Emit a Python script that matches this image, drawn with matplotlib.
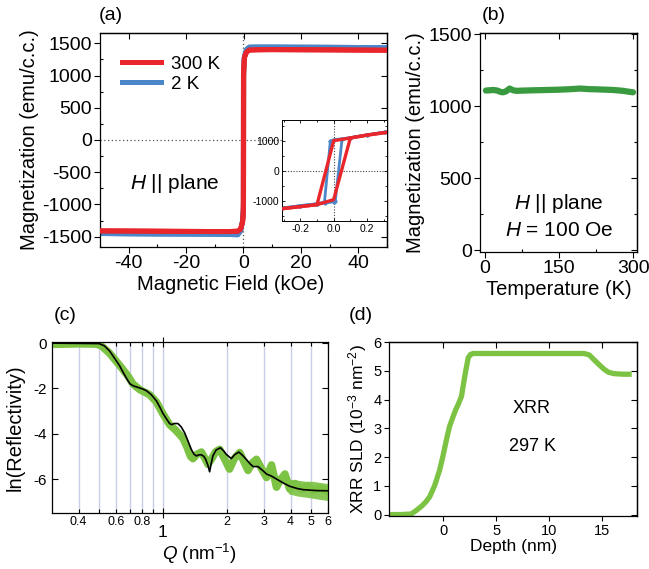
import matplotlib
matplotlib.use("Agg")
import matplotlib.pyplot as plt
from matplotlib.ticker import MultipleLocator, FixedLocator, FixedFormatter
from matplotlib.lines import Line2D

plt.rcParams['font.family'] = ['Liberation Sans', 'DejaVu Sans']
plt.rcParams['mathtext.fontset'] = 'custom'
plt.rcParams['mathtext.rm'] = 'Liberation Sans'
plt.rcParams['mathtext.it'] = 'Liberation Sans:italic'
plt.rcParams['axes.unicode_minus'] = False

# ---------------- data ----------------
# (a) M-H loops, 300 K
H300_up = [-50, -40, -30, -20, -10, -5, -2, -1, -0.31, -0.2, -0.1, 0.0, 0.1, 0.2, 0.32, 1, 2, 5, 10, 20, 30, 40, 50]
M300_up = [-1410, -1412, -1415, -1418, -1420, -1420, -1415, -1380, -1270, -1200, -1135, -966, 1090, 1185, 1280, 1360, 1395, 1400, 1402, 1400, 1398, 1395, 1392]
H300_dn = [50, 40, 30, 20, 10, 5, 2, 1, 0.32, 0.2, 0.1, 0.0, -0.1, -0.2, -0.31, -1, -2, -5, -10, -20, -30, -40, -50]
M300_dn = [1392, 1395, 1398, 1400, 1402, 1400, 1395, 1360, 1280, 1185, 1090, 1000, -1135, -1200, -1270, -1380, -1415, -1420, -1420, -1418, -1415, -1412, -1410]
# (a) M-H loops, 2 K
H2_up = [-50, -40, -30, -20, -10, -5, -2, -1, -0.31, -0.2, -0.1, -0.05, 0.0, 0.01, 0.05, 0.1, 0.2, 0.31, 1, 2, 5, 10, 20, 30, 40, 50]
M2_up = [-1450, -1455, -1458, -1460, -1462, -1465, -1470, -1410, -1250, -1170, -1105, -1080, -1040, -1000, 1040, 1100, 1195, 1290, 1400, 1440, 1442, 1442, 1440, 1438, 1435, 1432]
H2_dn = [50, 40, 30, 20, 10, 5, 2, 1, 0.31, 0.2, 0.1, 0.0, -0.02, -0.055, -0.1, -0.2, -0.31, -1, -2, -5, -10, -20, -30, -40, -50]
M2_dn = [1432, 1435, 1438, 1440, 1442, 1442, 1440, 1400, 1290, 1195, 1100, 1030, 980, -1045, -1105, -1170, -1250, -1410, -1470, -1465, -1462, -1460, -1458, -1455, -1450]

# (b) M-T
T_b = [2, 10, 17, 25, 32, 37, 43, 50, 57, 64, 80, 100, 125, 150, 175, 193, 210, 230, 260, 280, 295, 300]
M_b = [1110, 1112, 1114, 1110, 1100, 1098, 1105, 1124, 1112, 1108, 1110, 1112, 1114, 1116, 1120, 1124, 1120, 1118, 1114, 1108, 1100, 1098]

# (c) reflectivity: measured (green) and fit (black)
Q_meas = [0.31, 0.40, 0.48, 0.51, 0.561, 0.625, 0.684, 0.722, 0.777, 0.866, 0.932, 1.0, 1.075, 1.15, 1.243, 1.30, 1.35,
          1.386, 1.44, 1.518, 1.58, 1.63, 1.70, 1.77, 1.85, 1.95, 2.06, 2.17, 2.30, 2.40, 2.52, 2.63, 2.76, 2.92,
          3.08, 3.25, 3.43, 3.6, 3.76, 3.96, 4.2, 4.5, 4.8, 5.1, 5.5, 6.0]
R_meas = [-0.05, -0.03, -0.04, -0.1, -0.45, -0.98, -1.45, -1.8, -2.05, -2.28, -2.6, -3.12, -3.6, -3.85, -4.2, -4.6, -5.0,
          -5.1, -4.92, -4.81, -5.1, -5.35, -5.1, -4.8, -4.69, -5.1, -5.56, -5.1, -4.83, -5.2, -5.62, -5.3, -5.13, -5.55,
          -5.93, -5.38, -6.36, -6.0, -5.78, -6.44, -6.2, -6.45, -6.3, -6.5, -6.4, -6.55]
Q_noise = [3.9, 4.3, 4.7, 5.1, 5.5, 6.0]
R_noise_hi = [-6.0, -6.05, -6.1, -6.1, -6.15, -6.2]
R_noise_lo = [-6.65, -6.75, -6.8, -6.85, -6.9, -6.95]
Q_fit = [0.30, 0.50, 0.53, 0.561, 0.60, 0.625, 0.65, 0.68, 0.70, 0.73, 0.75, 0.80, 0.836, 0.88, 0.932, 0.97, 1.0, 1.04,
         1.075, 1.10, 1.13, 1.177, 1.22, 1.266, 1.31, 1.36, 1.40, 1.437, 1.48, 1.518, 1.56, 1.59, 1.63, 1.66, 1.69,
         1.72, 1.78, 1.866, 1.93, 1.99, 2.10, 2.18, 2.28, 2.37, 2.47, 2.57, 2.66, 2.81, 2.95, 3.08, 3.25, 3.43, 3.7,
         3.96, 4.3, 4.58, 5.3, 6.0]
R_fit = [0.0, -0.02, -0.12, -0.35, -0.75, -1.0, -1.3, -1.62, -1.8, -1.9, -1.93, -2.02, -2.1, -2.27, -2.55, -2.85, -3.1, -3.35,
         -3.55, -3.6, -3.55, -3.55, -3.7, -3.96, -4.3, -4.69, -4.9, -4.98, -4.93, -4.93, -5.0, -5.13, -5.4, -5.68, -5.3,
         -4.98, -4.72, -4.62, -4.75, -4.91, -5.1, -4.92, -4.81, -4.95, -5.13, -5.32, -5.45, -5.45, -5.62, -5.78, -5.87, -6.0, -6.18,
         -6.32, -6.42, -6.47, -6.51, -6.52]
q_grid = [0.4, 0.5, 0.6, 0.7, 0.8, 0.9, 1, 2, 3, 4, 5, 6]
q_minor = [0.4, 0.5, 0.6, 0.7, 0.8, 0.9, 2, 3, 4, 5, 6]
q_minor_labels = ['0.4', '', '0.6', '', '0.8', '', '2', '3', '4', '5', '6']

# (d) SLD profile
depth = [-5.1, -4, -3, -2.5, -2, -1.6, -1.26, -0.8, -0.32, 0, 0.32, 0.6, 0.95, 1.2, 1.42, 1.74, 2.05, 2.37, 2.6, 2.84, 3.5, 5, 10,
         13.3, 13.8, 14.2, 14.7, 15.2, 15.6, 16.1, 17, 17.8]
sld = [0, 0, 0.02, 0.15, 0.3, 0.45, 0.62, 1.0, 1.55, 2.05, 2.6, 3.05, 3.41, 3.65, 3.82, 4.11, 4.81, 5.45, 5.57, 5.6, 5.6, 5.6, 5.6,
       5.6, 5.55, 5.4, 5.22, 5.05, 4.95, 4.9, 4.88, 4.88]

RED = '#e8262b'
BLUE = '#4a86c8'
GREEN_B = '#3a9a40'
GREEN = '#7cc243'
W, Hh = 649, 569

def rect(l, r, t, b):
    return [l / W, 1 - b / Hh, (r - l) / W, (b - t) / Hh]

fig = plt.figure(figsize=(6.49, 5.69), dpi=100)

def mirror(ax, xmaj=None, ymaj=None, xmin=None, ymin=None):
    sx = ax.secondary_xaxis('top')
    sy = ax.secondary_yaxis('right')
    if xmaj is not None:
        sx.set_xticks(xmaj)
    if ymaj is not None:
        sy.set_yticks(ymaj)
    if xmin is not None:
        sx.xaxis.set_minor_locator(MultipleLocator(xmin))
    if ymin is not None:
        sy.yaxis.set_minor_locator(MultipleLocator(ymin))
    sx.tick_params(which='both', direction='in', labeltop=False, length=4, width=0.8)
    sx.tick_params(which='minor', length=2.5)
    sy.tick_params(which='both', direction='in', labelright=False, length=4, width=0.8)
    sy.tick_params(which='minor', length=2.5)
    for s in (sx, sy):
        for sp in s.spines.values():
            sp.set_linewidth(0.9)

# ---------------- (a) ----------------
ax = fig.add_axes(rect(100, 387, 33, 247))
ax.axhline(0, color='#555555', lw=0.9, ls=(0, (1, 2)), zorder=1)
ax.axvline(0, color='#555555', lw=0.9, ls=(0, (1, 2)), zorder=1)
ax.plot(H2_up, M2_up, color=BLUE, lw=3.6, solid_capstyle='butt', zorder=2)
ax.plot(H2_dn, M2_dn, color=BLUE, lw=3.6, solid_capstyle='butt', zorder=2)
ax.plot(H300_up, M300_up, color=RED, lw=3.6, solid_capstyle='butt', zorder=3)
ax.plot(H300_dn, M300_dn, color=RED, lw=3.6, solid_capstyle='butt', zorder=3)
ax.set_xlim(-50, 50)
ax.set_ylim(-1660, 1660)
ax.set_xticks([-40, -20, 0, 20, 40])
ax.set_yticks([-1500, -1000, -500, 0, 500, 1000, 1500])
ax.yaxis.set_minor_locator(MultipleLocator(250))
ax.xaxis.set_minor_locator(MultipleLocator(10))
ax.tick_params(which='major', direction='out', labelsize=14, length=4, width=0.8, pad=2)
ax.tick_params(which='minor', direction='in', length=2.5, width=0.8)
ax.set_xlabel('Magnetic Field (kOe)', fontsize=14.5, labelpad=3)
ax.xaxis.set_label_coords(0.455, -0.13)
ax.set_ylabel('Magnetization (emu/c.c.)', fontsize=14.5, labelpad=2)
mirror(ax, xmaj=[-40, -20, 0, 20, 40], ymaj=[-1500, -1000, -500, 0, 500, 1000, 1500])
handles = [Line2D([], [], color=RED, lw=3.6), Line2D([], [], color=BLUE, lw=3.6)]
ax.legend(handles, ['300 K', '2 K'], loc='upper left', bbox_to_anchor=(0.05, 0.93), frameon=False,
          fontsize=13.5, handlelength=2.1, handletextpad=0.5, labelspacing=0.15, borderaxespad=0)
ax.text(-24, -680, '$H$ || plane', fontsize=15, ha='center', va='center')
for sp in ax.spines.values():
    sp.set_linewidth(0.9)
fig.text(111 / W, 1 - 15 / Hh, '(a)', fontsize=14, ha='center', va='center')

# inset
axi = fig.add_axes(rect(282, 387, 120, 221))
axi.axhline(0, color='#444444', lw=0.8, ls=(0, (1, 1.5)), zorder=1)
axi.axvline(0, color='#444444', lw=0.8, ls=(0, (1, 1.5)), zorder=1)
axi.plot(H2_up, M2_up, color=BLUE, lw=2.0, marker='o', ms=2, zorder=2)
axi.plot(H2_dn, M2_dn, color=BLUE, lw=2.0, marker='o', ms=2, zorder=2)
axi.plot(H300_up, M300_up, color=RED, lw=2.4, zorder=3)
axi.plot(H300_dn, M300_dn, color=RED, lw=2.4, zorder=3)
axi.set_xlim(-0.31, 0.32)
axi.set_ylim(-1680, 1690)
axi.set_xticks([-0.2, 0.0, 0.2])
axi.set_xticklabels(['-0.2', '0.0', '0.2'])
axi.set_yticks([-1000, 0, 1000])
axi.xaxis.set_minor_locator(MultipleLocator(0.1))
axi.yaxis.set_minor_locator(MultipleLocator(500))
axi.tick_params(which='both', direction='in', labelsize=7.5, top=True, right=True, length=2.5, width=0.6, pad=2)
axi.tick_params(which='minor', length=1.5)
for sp in axi.spines.values():
    sp.set_linewidth(0.7)

# ---------------- (b) ----------------
bx = fig.add_axes(rect(480, 637, 33, 252))
bx.plot(T_b, M_b, color=GREEN_B, lw=4.5, solid_capstyle='round')
bx.set_xlim(-10, 308)
bx.set_ylim(-12, 1510)
bx.set_xticks([0, 150, 300])
bx.set_yticks([0, 500, 1000, 1500])
bx.yaxis.set_minor_locator(MultipleLocator(250))
bx.xaxis.set_minor_locator(MultipleLocator(75))
bx.tick_params(which='major', direction='out', labelsize=14, length=4, width=0.8, pad=2)
bx.tick_params(which='minor', direction='in', length=2.5, width=0.8)
bx.set_xlabel('Temperature (K)', fontsize=14.5, labelpad=2)
bx.set_ylabel('Magnetization (emu/c.c.)', fontsize=14.5, labelpad=2)
mirror(bx, xmaj=[0, 150, 300], ymaj=[0, 500, 1000, 1500], ymin=250)
bx.text(150, 322, '$H$ || plane', fontsize=15, ha='center', va='center')
bx.text(150, 140, '$H$ = 100 Oe', fontsize=15, ha='center', va='center')
for sp in bx.spines.values():
    sp.set_linewidth(0.9)
fig.text(494 / W, 1 - 15 / Hh, '(b)', fontsize=14, ha='center', va='center')

# ---------------- (c) ----------------
cx = fig.add_axes(rect(52, 328, 342, 513))
cx.set_xscale('log')
for q in q_grid:
    cx.axvline(q, color='#c9cde6', lw=1.0, zorder=0)
cx.fill_between(Q_noise, R_noise_lo, R_noise_hi, color=GREEN, lw=0, alpha=0.9, zorder=1)
cx.plot(Q_meas, R_meas, color=GREEN, lw=5.5, solid_capstyle='round', solid_joinstyle='round', zorder=2)
cx.plot(Q_fit, R_fit, color='black', lw=1.2, zorder=3)
cx.set_xlim(0.3, 6.0)
cx.set_ylim(-7.5, 0.05)
cx.xaxis.set_major_locator(FixedLocator([1]))
cx.xaxis.set_major_formatter(FixedFormatter(['1']))
cx.xaxis.set_minor_locator(FixedLocator(q_minor))
cx.xaxis.set_minor_formatter(FixedFormatter(q_minor_labels))
cx.set_yticks([-6, -4, -2, 0])
cx.set_yticklabels(['-6', '-4', '-2', '0'])
cx.tick_params(axis='x', which='major', direction='inout', labelsize=12.5, length=7, width=0.8, pad=5)
cx.tick_params(axis='x', which='minor', direction='in', labelsize=9, length=3, width=0.8, pad=2)
cx.tick_params(axis='y', which='major', direction='in', labelsize=11, length=4, width=0.8, pad=4,
               right=True)
cx.tick_params(axis='x', which='both', top=True)
cx.set_xlabel('$Q$ (nm$^{-1}$)', fontsize=13.5, labelpad=1)
cx.xaxis.set_label_coords(0.535, -0.17)
cx.set_ylabel('ln(Reflectivity)', fontsize=14.5, labelpad=6)
for sp in cx.spines.values():
    sp.set_linewidth(0.9)
fig.text(65 / W, 1 - 316 / Hh, '(c)', fontsize=14, ha='center', va='center')

# ---------------- (d) ----------------
dx = fig.add_axes(rect(389, 637, 342, 516))
dx.plot(depth, sld, color=GREEN, lw=3.8, solid_capstyle='butt', solid_joinstyle='round')
dx.set_xlim(-5.1, 18.3)
dx.set_ylim(-0.05, 6.0)
dx.set_xticks([0, 5, 10, 15])
dx.set_yticks([0, 1, 2, 3, 4, 5, 6])
dx.tick_params(which='major', direction='out', labelsize=10.5, length=3.5, width=0.8, pad=2)
dx.set_xlabel('Depth (nm)', fontsize=12.5, labelpad=1)
dx.set_ylabel('XRR SLD (10$^{-3}$ nm$^{-2}$)', fontsize=12.5, labelpad=3)
mirror(dx, xmaj=[0, 5, 10, 15], ymaj=[0, 1, 2, 3, 4, 5, 6])
dx.text(8.4, 3.7, 'XRR', fontsize=13, ha='center', va='center')
dx.text(8.4, 2.36, '297 K', fontsize=13, ha='center', va='center')
for sp in dx.spines.values():
    sp.set_linewidth(0.9)
fig.text(361 / W, 1 - 316 / Hh, '(d)', fontsize=14, ha='center', va='center')

fig.savefig('out.png', dpi=100)
